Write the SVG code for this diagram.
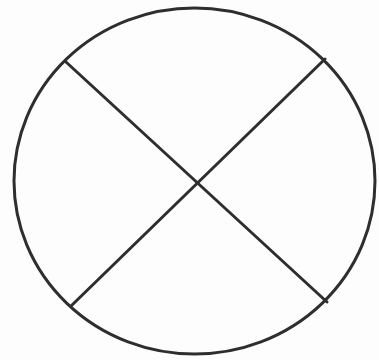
<svg xmlns="http://www.w3.org/2000/svg" width="379" height="360" viewBox="0 0 379 360">
<style>.s{fill:none;stroke:#2e2e2e;stroke-width:3;stroke-linecap:round}</style>
<rect width="379" height="360" fill="#fdfdfd"/>
<ellipse class="s" cx="194.5" cy="181" rx="180.5" ry="173"/>
<line class="s" x1="66" y1="62" x2="327" y2="302"/>
<line class="s" x1="325" y1="59" x2="71" y2="306"/>
</svg>
